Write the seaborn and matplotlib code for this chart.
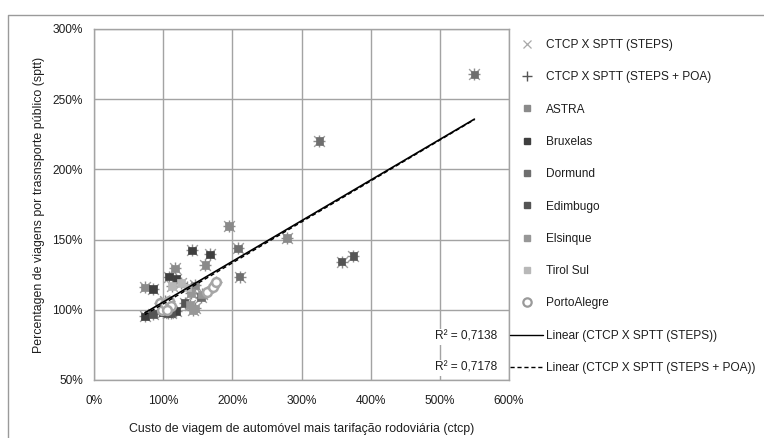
import numpy as np
import pandas as pd
import matplotlib
matplotlib.use("Agg")
import matplotlib.pyplot as plt
import seaborn as sns
from matplotlib.lines import Line2D
from matplotlib.ticker import FuncFormatter

# ---------------- data (fractions: 1.0 = 100%) ----------------
astra_x = [1.95, 1.61, 1.168, 1.457, 2.79, 0.736]
astra_y = [1.597, 1.32, 1.295, 1.174, 1.51, 1.16]
bruxelas_x = [1.418, 1.673, 0.736, 1.087, 1.19, 0.856, 1.19, 1.00]
bruxelas_y = [1.423, 1.395, 0.953, 1.237, 1.22, 1.15, 0.99, 0.985]
dormund_x = [2.08, 2.106, 3.26, 5.50, 1.55]
dormund_y = [1.437, 1.237, 2.203, 2.677, 1.093]
edimbugo_x = [3.58, 3.75, 0.856, 1.31, 1.07, 1.12]
edimbugo_y = [1.344, 1.384, 0.97, 1.047, 0.977, 0.975]
elsinque_x = [1.385, 1.43, 1.46, 1.56, 1.40, 1.05]
elsinque_y = [1.035, 1.0, 1.01, 1.11, 1.12, 1.0]
tirol_x = [1.26, 1.13, 1.35, 1.02]
tirol_y = [1.19, 1.17, 1.16, 1.06]
poa_x = [0.95, 0.99, 1.03, 1.08, 1.12, 1.06, 1.64, 1.72, 1.77]
poa_y = [1.05, 1.0, 1.04, 1.065, 1.025, 1.0, 1.13, 1.163, 1.195]

city_names = ["ASTRA", "Bruxelas", "Dormund", "Edimbugo", "Elsinque", "Tirol Sul"]
city_colors = ["#8a8a8a", "#3f3f3f", "#6e6e6e", "#545454", "#979797", "#b8b8b8"]
poa_name = "PortoAlegre"

series_labels = ["CTCP X SPTT (STEPS)", "CTCP X SPTT (STEPS + POA)"]
trend_labels = ["Linear (CTCP X SPTT (STEPS))", "Linear (CTCP X SPTT (STEPS + POA))"]
r2_texts = ["R\u00b2 = 0,7138", "R\u00b2 = 0,7178"]

x_ticks = [0, 1, 2, 3, 4, 5, 6]
y_ticks = [0.5, 1.0, 1.5, 2.0, 2.5, 3.0]
x_label = "Custo de viagem de autom\u00f3vel mais tarifa\u00e7\u00e3o rodovi\u00e1ria (ctcp)"
y_label = "Percentagen de viagens por trasnsporte p\u00fablico (sptt)"

# ---------------- tables ----------------
cx = [astra_x, bruxelas_x, dormund_x, edimbugo_x, elsinque_x, tirol_x]
cy = [astra_y, bruxelas_y, dormund_y, edimbugo_y, elsinque_y, tirol_y]
rows = []
for name, xs, ys in zip(city_names, cx, cy):
    for a, b in zip(xs, ys):
        rows.append((name, a, b))
df_steps = pd.DataFrame(rows, columns=["city", "x", "y"])
df_poa = pd.DataFrame({"city": poa_name, "x": poa_x, "y": poa_y})
df_all = pd.concat([df_steps, df_poa], ignore_index=True)

# ---------------- figure ----------------
sns.set_theme(style="white")
plt.rcParams["font.family"] = ["Liberation Sans", "DejaVu Sans"]
FS = 8.6
TXT = "#1e1e1e"

W, H = 764, 438
fig = plt.figure(figsize=(W / 100, H / 100), dpi=100)
ax = fig.add_axes([94 / W, 1 - 380 / H, (509 - 94) / W, (380 - 29) / H])

# outer chart border
fig.add_artist(Line2D([8 / W, 8 / W, 1.0], [0.0, 1 - 15 / H, 1 - 15 / H],
                      transform=fig.transFigure, color="#9a9a9a", lw=1))

# star-like overlays (x and +) under each point
sns.scatterplot(data=df_steps, x="x", y="y", marker="x", color="#a0a0a0",
                s=60, linewidth=1.0, ax=ax, legend=False, zorder=3)
sns.scatterplot(data=df_all, x="x", y="y", marker="+", color="#8c8c8c",
                s=80, linewidth=1.0, ax=ax, legend=False, zorder=3)
# city squares
sns.scatterplot(data=df_steps, x="x", y="y", hue="city", hue_order=city_names,
                palette=city_colors, marker="s", s=30, linewidth=0.5,
                edgecolor=None, ax=ax, legend=False, zorder=4)
# Porto Alegre open circles
sns.scatterplot(data=df_poa, x="x", y="y", marker="o", s=40,
                facecolor="white", edgecolor="#a6a6a6", linewidth=1.8,
                ax=ax, legend=False, zorder=4)

# trend lines
sns.regplot(data=df_all, x="x", y="y", scatter=False, ci=None, truncate=True,
            color="black", line_kws=dict(lw=1.0, ls=(0, (3, 2)), zorder=5), ax=ax)
sns.regplot(data=df_steps, x="x", y="y", scatter=False, ci=None, truncate=True,
            color="black", line_kws=dict(lw=1.2, zorder=5), ax=ax)

# axes styling
ax.set_xlim(x_ticks[0], x_ticks[-1])
ax.set_ylim(y_ticks[0], y_ticks[-1])
ax.set_xticks(x_ticks)
ax.set_yticks(y_ticks)
ax.xaxis.set_major_formatter(FuncFormatter(lambda v, p: f"{v * 100:.0f}%"))
ax.yaxis.set_major_formatter(FuncFormatter(lambda v, p: f"{v * 100:.0f}%"))
ax.grid(True, color="#a3a3a3", lw=1.0)
ax.set_axisbelow(True)
for s in ax.spines.values():
    s.set_color("#a3a3a3")
    s.set_linewidth(1.0)
ax.tick_params(axis="both", which="major", direction="out", length=4, width=1,
               color="#a3a3a3", labelsize=FS, labelcolor=TXT, pad=4)
ax.tick_params(axis="x", pad=7)
ax.set_xlabel(x_label, fontsize=FS + 0.3, color=TXT, labelpad=11)
ax.set_ylabel(y_label, fontsize=FS + 0.3, color=TXT, labelpad=5.5)

# R² labels
for txt, yy in zip(r2_texts, [0.123, 0.035]):
    ax.text(0.972, yy, txt, transform=ax.transAxes, ha="right", va="center",
            fontsize=FS, color=TXT, zorder=6,
            bbox=dict(fc="white", ec="none", pad=1.5))

# legend
handles = [
    Line2D([], [], marker="x", color="#a8a8a8", ls="none", markersize=6, mew=0.9),
    Line2D([], [], marker="+", color="#555555", ls="none", markersize=7, mew=1),
]
for c in city_colors:
    handles.append(Line2D([], [], marker="s", color=c, ls="none", markersize=5))
handles.append(Line2D([], [], marker="o", mfc="white", mec="#9a9a9a", mew=1.6,
                      ls="none", markersize=6))
handles.append(Line2D([], [], color="black", lw=1.0))
handles.append(Line2D([], [], color="black", lw=1.0, ls=(0, (3, 2))))
labels = series_labels + city_names + [poa_name] + trend_labels
leg = ax.legend(handles, labels, loc="upper left",
                bbox_to_anchor=(510 / W, 1 - 39 / H), bbox_transform=fig.transFigure,
                frameon=False, handlelength=2.8, handletextpad=0.25,
                labelspacing=1.70, fontsize=FS, borderpad=0, borderaxespad=0)
for t in leg.get_texts():
    t.set_color(TXT)

fig.savefig("out.png", dpi=100)
